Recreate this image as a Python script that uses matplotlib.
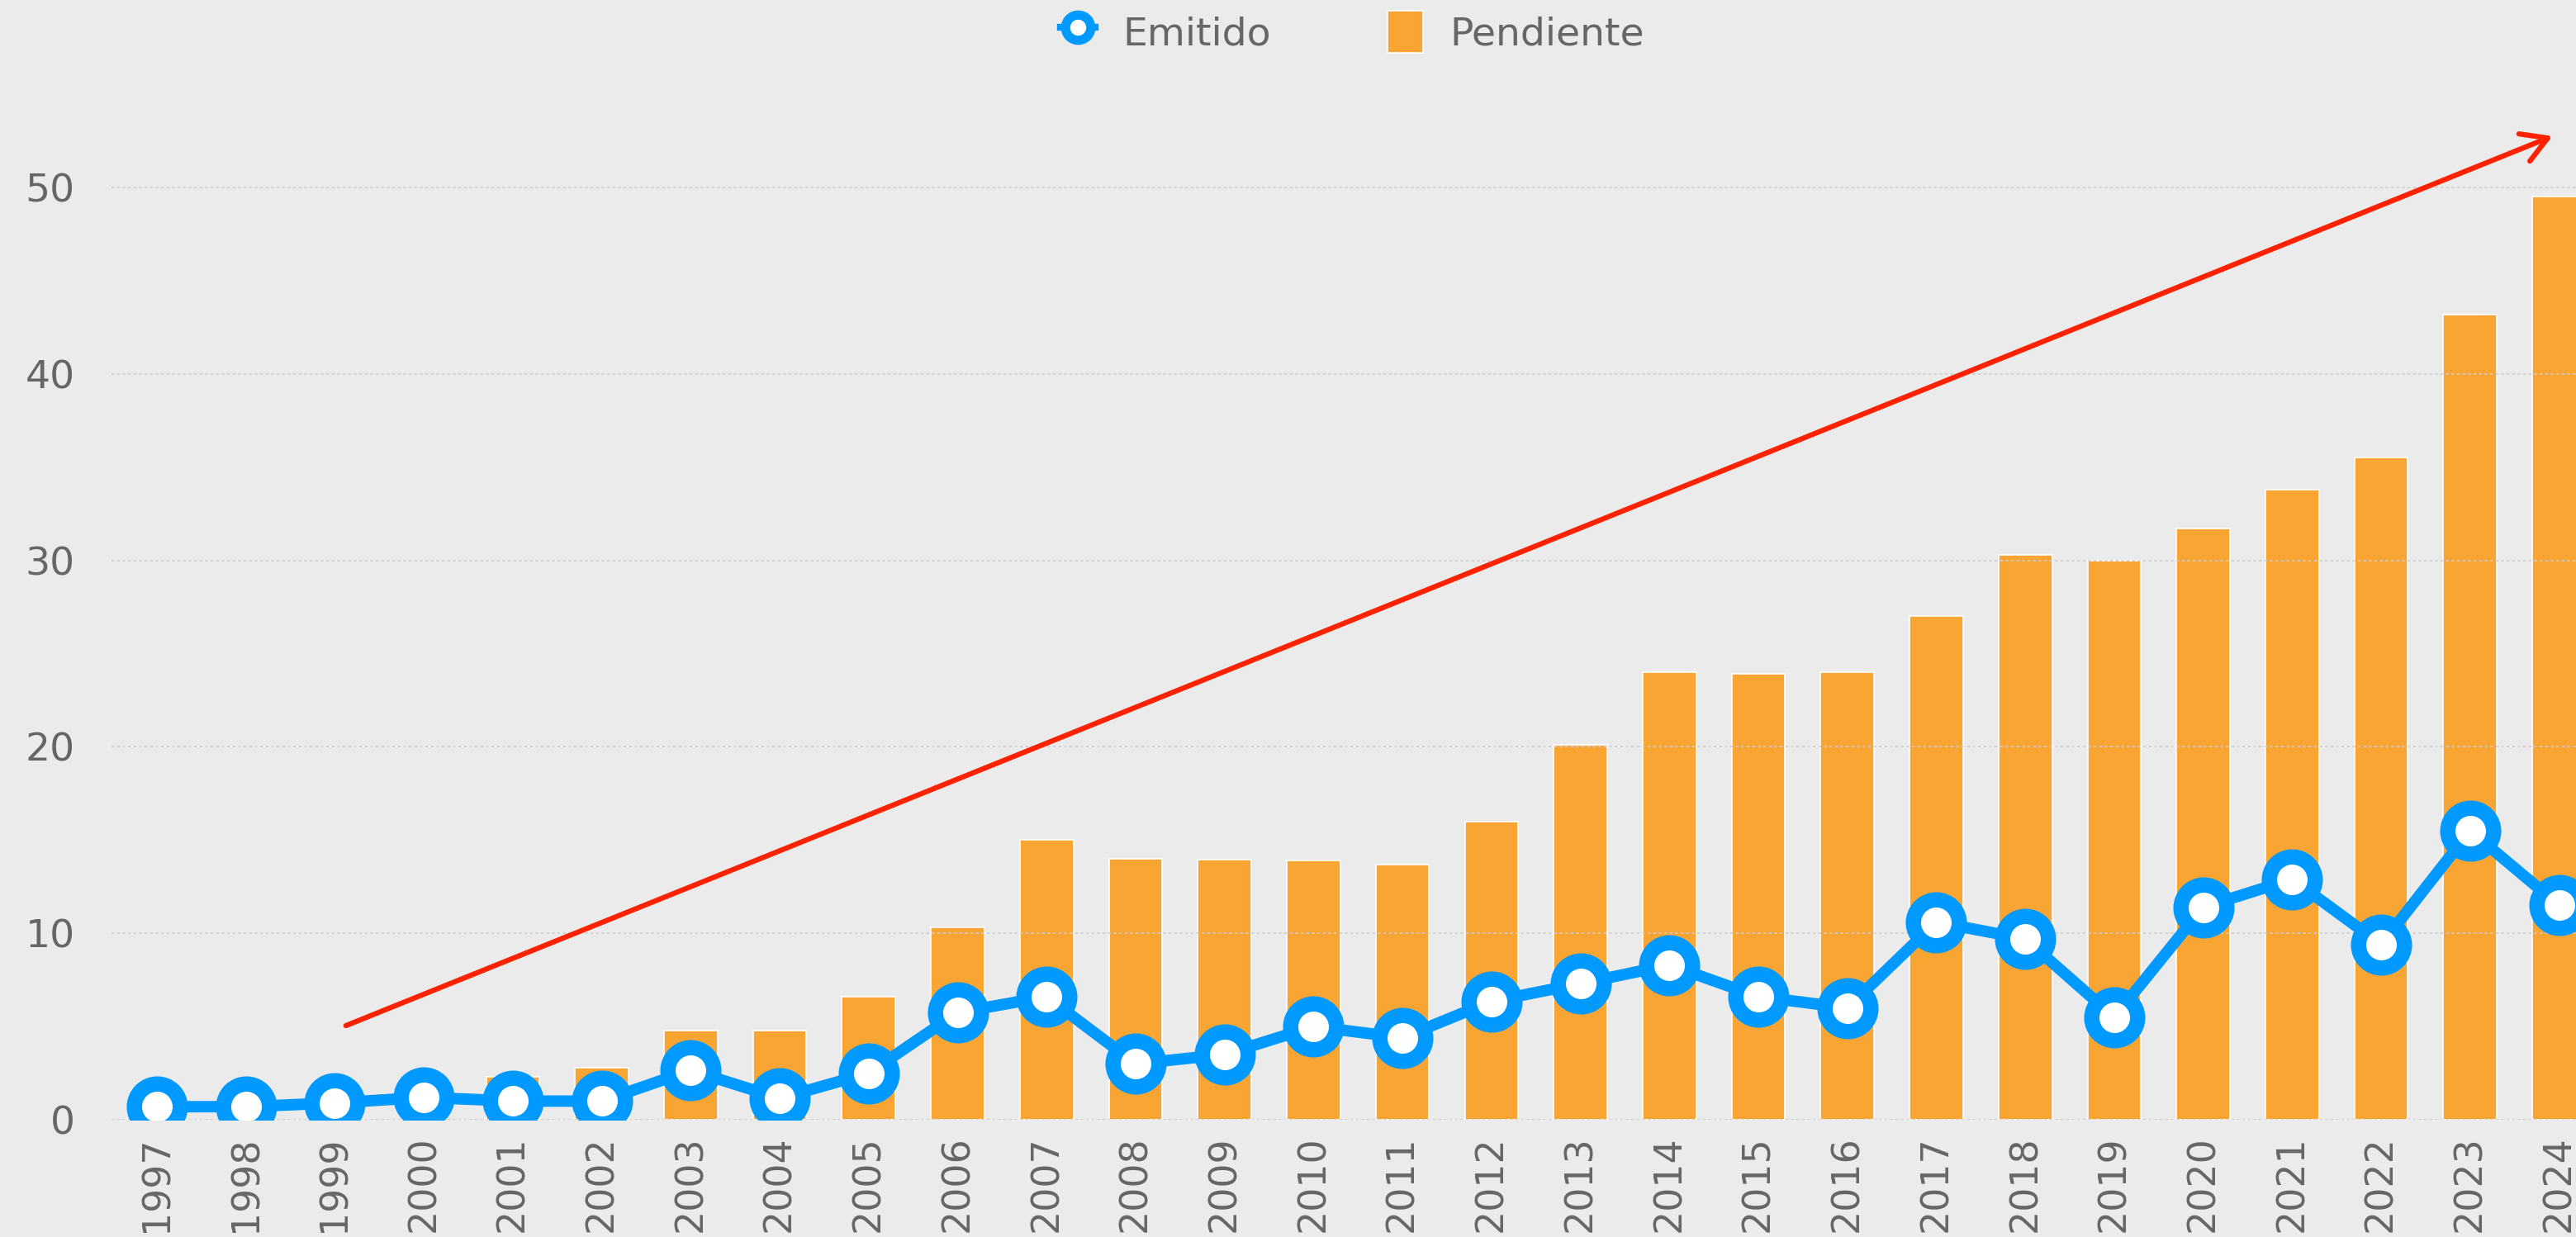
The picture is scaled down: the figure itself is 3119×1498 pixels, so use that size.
import matplotlib.pyplot as plt
from matplotlib.lines import Line2D
from matplotlib.patches import Patch
import numpy as np

years = list(range(1997, 2025))
emitido = [0.7, 0.7, 0.9, 1.2, 1.0, 1.0, 2.65, 1.15, 2.5, 5.75, 6.6, 3.0, 3.5, 5.0,
           4.4, 6.35, 7.3, 8.3, 6.6, 6.0, 10.6, 9.7, 5.5, 11.4, 12.9, 9.4, 15.5, 11.5]
pendiente = [0, 0, 0, 0, 2.3, 2.8, 4.8, 4.8, 6.6, 10.3, 15.0, 14.0, 13.95, 13.9,
             13.7, 16.0, 20.1, 24.0, 23.9, 24.0, 27.0, 30.3, 30.0, 31.7, 33.8, 35.5, 43.2, 49.5]
yticks = [0, 10, 20, 30, 40, 50]

# trend arrow (index, value)
arrow_start = (2.1, 5.0)
arrow_end = (26.95, 52.8)

bg = '#EBEBEB'
blue = '#0099FF'
orange = '#F9A533'
txt = '#666666'

plt.rcParams['font.family'] = ['DejaVu Sans']

fig = plt.figure(figsize=(31.19, 14.98), dpi=100, facecolor=bg)
ax = fig.add_axes([0.0433, 0.0948, 0.9567, 0.829], facecolor=bg)

x = np.arange(len(years))
ax.bar(x, pendiente, width=0.6, color=orange, edgecolor='white', linewidth=1.2, zorder=1)
ax.plot(x, emitido, color=blue, lw=10, marker='o', markersize=40,
        markerfacecolor='white', markeredgecolor=blue, markeredgewidth=13.3, zorder=4)

ax.annotate('', xy=arrow_end, xytext=arrow_start,
            arrowprops=dict(arrowstyle='->,head_length=0.55,head_width=0.32',
                            mutation_scale=40, color='#FF2200', lw=4.5), zorder=5)

ax.set_xlim(-0.51, 27.19)
ax.set_ylim(0, 55)
ax.set_yticks(yticks)
ax.set_xticks(x)
ax.set_xticklabels([str(y) for y in years], rotation=90, fontsize=33, color=txt)
ax.set_yticklabels([str(v) for v in yticks], fontsize=34, color=txt)
ax.tick_params(axis='both', length=0)
ax.tick_params(axis='y', pad=32)
ax.tick_params(axis='x', pad=14)

ax.set_axisbelow(False)
ax.yaxis.grid(True, linestyle=(0, (2, 2)), color='#CDCDCD', lw=1.2, zorder=2)
for s in ax.spines.values():
    s.set_visible(False)

h_emit = Line2D([], [], color=blue, lw=6, marker='o', markersize=22,
                markerfacecolor='white', markeredgecolor=blue, markeredgewidth=8)
h_pend = Patch(facecolor=orange, edgecolor='white', linewidth=1.2)
leg = fig.legend([h_emit, h_pend], ['Emitido', 'Pendiente'], loc='upper center',
                 bbox_to_anchor=(0.525, 1.02), ncol=2, frameon=False, fontsize=34,
                 columnspacing=3.0, handlelength=0.9, handleheight=1.3, handletextpad=0.7)
for t in leg.get_texts():
    t.set_color(txt)

fig.savefig('out.png', dpi=100, facecolor=bg)
